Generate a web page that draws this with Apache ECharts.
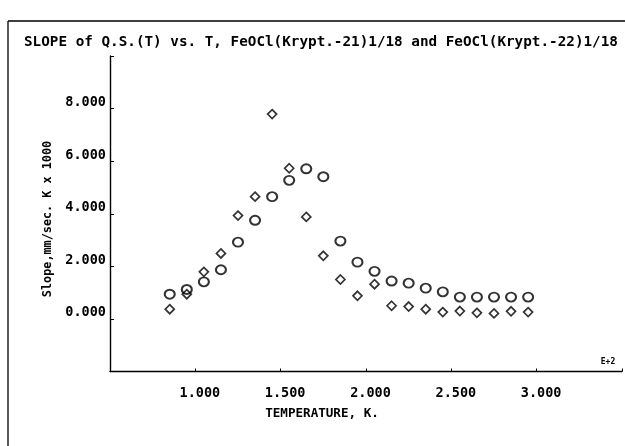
<!DOCTYPE html>
<html>
<head>
<meta charset="utf-8">
<script src="https://cdn.jsdelivr.net/npm/echarts@6/dist/echarts.min.js"></script>
<style>
html,body{margin:0;padding:0;background:#fff;}
#chart{width:625px;height:446px;}
</style>
</head>
<body>
<div id="chart"></div>
<script>
// Temperature (K, in units of E+2)
var temperatures = [0.85,0.95,1.05,1.15,1.25,1.35,1.45,1.55,1.65,1.75,1.85,1.95,2.05,2.15,2.25,2.35,2.45,2.55,2.65,2.75,2.85,2.95];
// Slope, mm/sec. K x 1000 — circles (Krypt.-21)
var slopeCircles = [0.94,1.12,1.41,1.87,2.92,3.75,4.65,5.27,5.71,5.41,2.96,2.16,1.81,1.44,1.36,1.17,1.03,0.83,0.83,0.83,0.83,0.83];
// Slope, mm/sec. K x 1000 — diamonds (Krypt.-22)
var slopeDiamonds = [0.37,0.94,1.79,2.49,3.93,4.65,7.79,5.73,3.88,2.40,1.50,0.88,1.32,0.50,0.47,0.37,0.26,0.30,0.23,0.21,0.29,0.26];
var xTickLabels = ['1.000','1.500','2.000','2.500','3.000'];
var yTickLabels = ['0.000','2.000','4.000','6.000','8.000'];
var titleText = 'SLOPE of Q.S.(T) vs. T, FeOCl(Krypt.-21)1/18 and FeOCl(Krypt.-22)1/18';
var xName = 'TEMPERATURE, K.';
var yName = 'Slope,mm/sec. K x 1000';
var xExp = 'E+2';

function pairs(xs, ys){ return xs.map(function(x,i){ return [x, ys[i]]; }); }
function fmt(v){ return v.toFixed(3); }

var FONT = '"DejaVu Sans Mono", monospace';
var chart = echarts.init(document.getElementById('chart'));
chart.setOption({
  animation:false,
  backgroundColor:'#fff',
  grid:{left:110, top:56, width:513, height:315.5},
  xAxis:{
    type:'value', min:0.5, max:3.5, interval:0.5,
    splitLine:{show:false},
    axisLine:{onZero:false, lineStyle:{color:'#000', width:1.4}},
    axisTick:{inside:true, length:3, lineStyle:{color:'#000', width:1}},
    axisLabel:{
      margin:15, color:'#000', fontFamily:FONT, fontWeight:'bold', fontSize:13.5,
      padding:[0,0,0,9],
      formatter:function(v){ var s=fmt(v); return xTickLabels.indexOf(s)>=0 ? s : ''; }
    }
  },
  yAxis:{
    type:'value', min:-2, max:10, interval:2,
    splitLine:{show:false},
    axisLine:{onZero:false, lineStyle:{color:'#000', width:1.4}},
    axisTick:{inside:true, length:4, lineStyle:{color:'#000', width:1}},
    axisLabel:{
      margin:4, color:'#000', fontFamily:FONT, fontWeight:'bold', fontSize:13.5,
      verticalAlign:'bottom', lineHeight:12,
      formatter:function(v){ var s=fmt(v); return yTickLabels.indexOf(s)>=0 ? s : ''; }
    }
  },
  series:[
    {type:'scatter', name:'Krypt.-21', symbol:'circle', symbolSize:[10,9],
     itemStyle:{color:'rgba(255,255,255,0)', borderColor:'#000', borderWidth:2},
     data:pairs(temperatures, slopeCircles)},
    {type:'scatter', name:'Krypt.-22', symbol:'diamond', symbolSize:[9,9],
     itemStyle:{color:'rgba(255,255,255,0)', borderColor:'#000', borderWidth:1.7},
     data:pairs(temperatures, slopeDiamonds)}
  ],
  graphic:[
    {type:'line', shape:{x1:8, y1:21, x2:8, y2:446}, style:{stroke:'#000', lineWidth:1.3}},
    {type:'line', shape:{x1:8, y1:21, x2:625, y2:21}, style:{stroke:'#000', lineWidth:1.3}},
    {type:'text', x:24, y:42, style:{text:titleText, font:'bold 14.3px '+FONT, fill:'#000', textVerticalAlign:'middle', textAlign:'left'}},
    {type:'text', x:322, y:414, style:{text:xName, font:'bold 12.6px '+FONT, fill:'#000', textVerticalAlign:'middle', textAlign:'center'}},
    {type:'text', x:48, y:219, rotation:Math.PI/2, style:{text:yName, font:'bold 11.8px '+FONT, fill:'#000', textVerticalAlign:'middle', textAlign:'center'}},
    {type:'text', x:608, y:361.5, style:{text:xExp, font:'bold 8px '+FONT, fill:'#000', textVerticalAlign:'middle', textAlign:'center'}}
  ]
});
</script>
</body>
</html>
